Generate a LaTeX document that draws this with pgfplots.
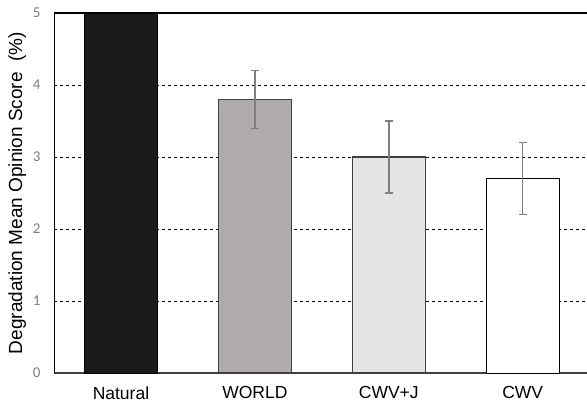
\documentclass[border=0pt]{standalone}
\usepackage{pgfplots}
\pgfplotsset{compat=1.18}
\usepackage{fontspec}
\setmainfont{Liberation Sans}
\newfontfamily\tickfont{Carlito}
\definecolor{natfill}{HTML}{1A1A1A}
\definecolor{worldfill}{HTML}{AFABAB}
\definecolor{cwvjfill}{HTML}{E5E5E5}
\definecolor{edgegray}{HTML}{404040}
\definecolor{errgray}{HTML}{7F7F7F}
\definecolor{tickgray}{HTML}{7F7F7F}
\begin{document}
\begin{tikzpicture}
\path[use as bounding box] (0,0) rectangle (587pt,408pt);
\begin{axis}[
  at={(54pt,35pt)}, anchor=south west,
  scale only axis,
  width=533pt, height=360pt,
  xmin=-0.5, xmax=3.48,
  ymin=0, ymax=5,
  axis x line*=bottom,
  axis y line*=left,
  x axis line style={draw=edgegray, line width=1.3pt, -},
  y axis line style={draw=black, line width=0.9pt, -},
  xtick={0,1,2,3},
  xticklabels={Natural,WORLD,CWV+J,CWV},
  ytick={0,1,2,3,4,5},
  major tick length=0pt,
  ymajorgrids,
  grid style={dashed, black, line width=0.8pt},
  /pgf/number format/assume math mode=true,
  xticklabel style={font=\fontsize{17.5}{20}\selectfont, yshift=-10pt},
  yticklabel style={font=\tickfont\fontsize{15}{17}\selectfont, text=tickgray, xshift=-10pt},
  ylabel={Degradation Mean Opinion Score~~(\%)},
  ylabel style={font=\fontsize{19}{21}\selectfont},
  ybar, bar width=73pt,
  clip=false,
]
\addplot[ybar, bar shift=0pt, fill=natfill, draw=black, line width=1pt] coordinates {(0,5)};
\addplot[ybar, bar shift=0pt, fill=worldfill, draw=edgegray, line width=1.2pt,
  error bars/.cd, y dir=both, y explicit,
  error bar style={errgray, line width=1.4pt},
  error mark options={rotate=90, mark size=4pt, errgray, line width=1.4pt}]
  coordinates {(1,3.8) +- (0,0.4)};
\addplot[ybar, bar shift=0pt, fill=cwvjfill, draw=edgegray, line width=1.2pt,
  error bars/.cd, y dir=both, y explicit,
  error bar style={errgray, line width=1.4pt},
  error mark options={rotate=90, mark size=4pt, errgray, line width=1.4pt}]
  coordinates {(2,3.0) +- (0,0.5)};
\addplot[ybar, bar shift=0pt, fill=white, draw=black, line width=1pt,
  error bars/.cd, y dir=both, y explicit,
  error bar style={errgray, line width=1.4pt},
  error mark options={rotate=90, mark size=4pt, errgray, line width=1.4pt}]
  coordinates {(3,2.7) +- (0,0.5)};
\draw[black, line width=1.1pt] (axis cs:-0.5,5) -- (axis cs:3.48,5);
\end{axis}
\end{tikzpicture}
\end{document}
